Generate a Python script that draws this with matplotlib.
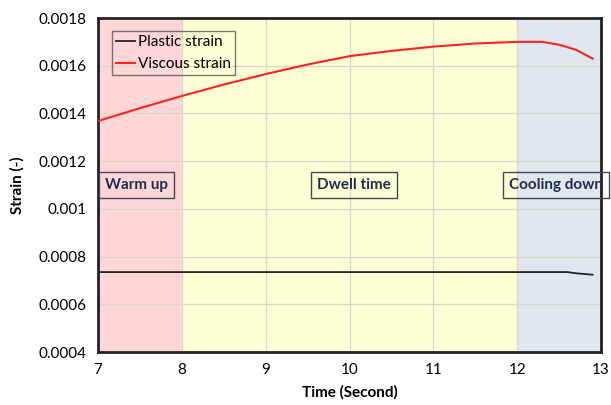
import matplotlib.pyplot as plt

plt.rcParams['font.family'] = ['Lato', 'DejaVu Sans']

time_viscous = [7.0, 7.5, 8.0, 8.5, 9.0, 9.5, 10.0, 10.5, 11.0, 11.5, 12.0, 12.3, 12.5, 12.7, 12.9]
viscous = [0.001368, 0.001422, 0.001473, 0.001521, 0.001565, 0.001605, 0.00164, 0.001662, 0.00168, 0.001693, 0.0017, 0.0017, 0.001688, 0.001667, 0.00163]

time_plastic = [7.0, 8.0, 9.0, 10.0, 11.0, 12.0, 12.6, 12.7, 12.9]
plastic = [0.000735, 0.000735, 0.000735, 0.000735, 0.000735, 0.000735, 0.000735, 0.00073, 0.000724]

phases = [(7, 8, '#ffd6d8'), (8, 12, '#ffffd6'), (12, 13, '#e1e7ef')]

fig = plt.figure(figsize=(6.11, 4.05), dpi=100)
ax = fig.add_axes([98 / 611, 1 - 352 / 405, 503 / 611, 334 / 405])

for x0, x1, c in phases:
    ax.axvspan(x0, x1, color=c, zorder=0, lw=0)

ax.grid(True, color='#d9d9c8', lw=1, zorder=1)
ax.plot(time_plastic, plastic, color='#222222', lw=1.3, label='Plastic strain', zorder=3)
ax.plot(time_viscous, viscous, color='#ff2020', lw=1.5, label='Viscous strain', zorder=3)

ax.set_xlim(7, 13)
ax.set_ylim(0.0004, 0.0018)
ax.set_xticks([7, 8, 9, 10, 11, 12, 13])
ax.set_yticks([0.0004, 0.0006, 0.0008, 0.001, 0.0012, 0.0014, 0.0016, 0.0018])
ax.set_yticklabels(['0.0004', '0.0006', '0.0008', '0.001', '0.0012', '0.0014', '0.0016', '0.0018'])
ax.tick_params(length=0, labelsize=11, pad=8)
for s in ax.spines.values():
    s.set_linewidth(2)
    s.set_color('#222222')

ax.set_xlabel('Time (Second)', fontsize=11, fontweight='bold', labelpad=6)
ax.set_ylabel('Strain (-)', fontsize=11, fontweight='bold', labelpad=10)

box = dict(boxstyle='square,pad=0.4', fc='none', ec='#3a4a5a', lw=1)
tc = '#1f2d4f'
ax.text(7.08, 0.0011, 'Warm up', fontsize=11, fontweight='bold', color=tc, ha='left', va='center', bbox=box, zorder=4)
ax.text(10.05, 0.0011, 'Dwell time', fontsize=11, fontweight='bold', color=tc, ha='center', va='center', bbox=box, zorder=4)
ax.text(11.9, 0.0011, 'Cooling down', fontsize=11, fontweight='bold', color=tc, ha='left', va='center', bbox=box, zorder=4, clip_on=False)

leg = ax.legend(loc='upper left', bbox_to_anchor=(0.012, 0.985), fontsize=11, frameon=True, fancybox=False,
                handlelength=1.2, handletextpad=0.2, borderpad=0.3, labelspacing=0.5)
leg.get_frame().set_facecolor('none')
leg.get_frame().set_edgecolor('#555555')

fig.savefig('out.png', dpi=100)
